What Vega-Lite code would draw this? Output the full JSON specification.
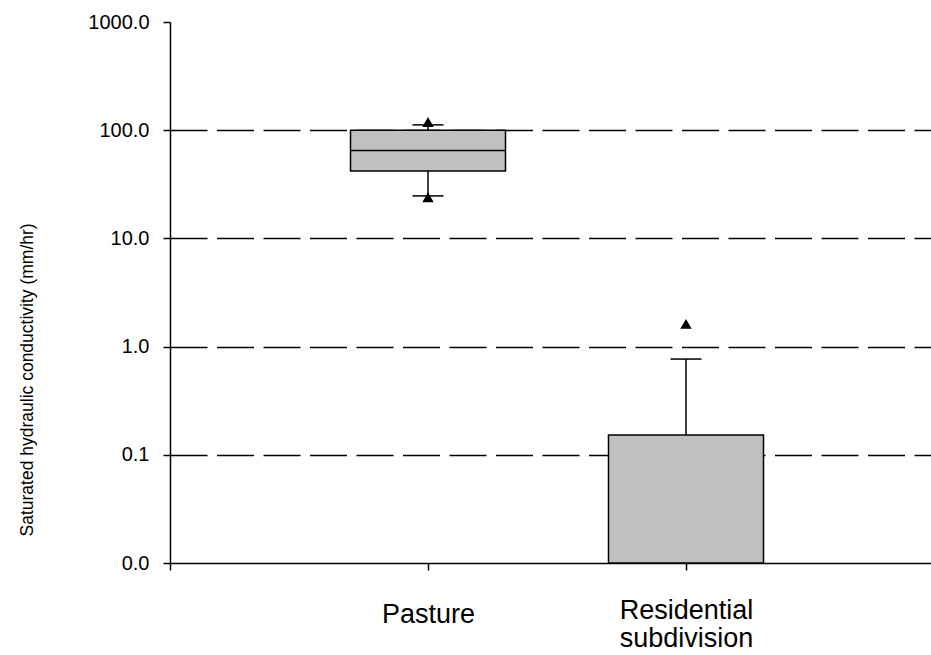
{
  "$schema": "https://vega.github.io/schema/vega-lite/v6.json",
  "autosize": {"type": "none"},
  "padding": {"left": 170, "top": 22, "right": 0, "bottom": 92},
  "width": 761,
  "height": 541,
  "background": "white",
  "config": {
    "view": {"stroke": null},
    "font": "Liberation Sans",
    "axis": {"labelFont": "Liberation Sans", "titleFont": "Liberation Sans", "labelColor": "black", "titleColor": "black", "domainColor": "black", "tickColor": "black", "domainWidth": 1.5, "tickWidth": 1.5}
  },
  "datasets": {
    "boxes": [
      {"group": "Pasture", "lower": 24.7, "q1": 42, "median": 65, "q3": 100, "upper": 112},
      {"group": "Residential subdivision", "lower": null, "q1": 0.01, "median": null, "q3": 0.152, "upper": 0.767}
    ],
    "outliers": [
      {"group": "Pasture", "value": 119},
      {"group": "Pasture", "value": 24},
      {"group": "Residential subdivision", "value": 1.62}
    ]
  },
  "layer": [
    {
      "data": {"name": "boxes"},
      "mark": {"type": "rule", "color": "black", "strokeWidth": 1.5},
      "encoding": {
        "x": {
          "field": "group", "type": "nominal",
          "scale": {"type": "point", "domain": ["_s", "Pasture", "Residential subdivision", "_e"], "range": [0, 774], "padding": 0},
          "axis": {
            "title": null, "orient": "bottom", "tickSize": 7, "labelFontSize": 27,
            "labelPadding": {"condition": {"test": "datum.value == 'Pasture'", "value": 31}, "value": 27},
            "labelBaseline": "top", "labelLineHeight": 28, "labelAngle": 0, "labelOverlap": false, "labelFlush": false,
            "labelExpr": "datum.value == 'Residential subdivision' ? ['Residential', 'subdivision'] : (datum.value == 'Pasture' ? 'Pasture' : '')",
            "grid": false
          }
        },
        "y": {
          "field": "lower", "type": "quantitative",
          "scale": {"type": "log", "domain": [0.01, 1000], "nice": false},
          "axis": {
            "title": "Saturated hydraulic conductivity (mm/hr)",
            "titleFontSize": 17.5, "titleFontWeight": "normal",
            "titleAngle": 270, "titleAlign": "left", "titleBaseline": "alphabetic",
            "titleX": -138, "titleY": 514,
            "values": [0.01, 0.1, 1, 10, 100, 1000], "format": ".1f",
            "labelFontSize": 20, "labelPadding": 14, "tickSize": 7,
            "grid": true, "gridColor": "black", "gridWidth": 1.5, "gridDash": [37, 9.5],
            "gridOpacity": {"condition": {"test": "datum.value >= 1000 || datum.value <= 0.01", "value": 0}, "value": 1}
          }
        },
        "y2": {"field": "q1"}
      }
    },
    {
      "data": {"name": "boxes"},
      "mark": {"type": "rule", "color": "black", "strokeWidth": 1.5},
      "encoding": {
        "x": {"field": "group", "type": "nominal"},
        "y": {"field": "q3", "type": "quantitative"},
        "y2": {"field": "upper"}
      }
    },
    {
      "data": {"name": "boxes"},
      "mark": {"type": "bar", "width": 155, "fill": "#c0c0c0", "stroke": "black", "strokeWidth": 1.5},
      "encoding": {
        "x": {"field": "group", "type": "nominal"},
        "y": {"field": "q1", "type": "quantitative"},
        "y2": {"field": "q3"}
      }
    },
    {
      "data": {"name": "boxes"},
      "mark": {"type": "tick", "size": 155, "thickness": 1.5, "color": "black", "opacity": 1},
      "encoding": {
        "x": {"field": "group", "type": "nominal"},
        "y": {"field": "median", "type": "quantitative"}
      }
    },
    {
      "data": {"name": "boxes"},
      "mark": {"type": "tick", "size": 31, "thickness": 1.5, "color": "black", "opacity": 1},
      "encoding": {
        "x": {"field": "group", "type": "nominal"},
        "y": {"field": "upper", "type": "quantitative"}
      }
    },
    {
      "data": {"name": "boxes"},
      "mark": {"type": "tick", "size": 31, "thickness": 1.5, "color": "black", "opacity": 1},
      "encoding": {
        "x": {"field": "group", "type": "nominal"},
        "y": {"field": "lower", "type": "quantitative"}
      }
    },
    {
      "data": {"name": "outliers"},
      "mark": {"type": "point", "shape": "triangle-up", "filled": true, "color": "black", "opacity": 1, "size": 130},
      "encoding": {
        "x": {"field": "group", "type": "nominal"},
        "y": {"field": "value", "type": "quantitative"}
      }
    }
  ]
}
